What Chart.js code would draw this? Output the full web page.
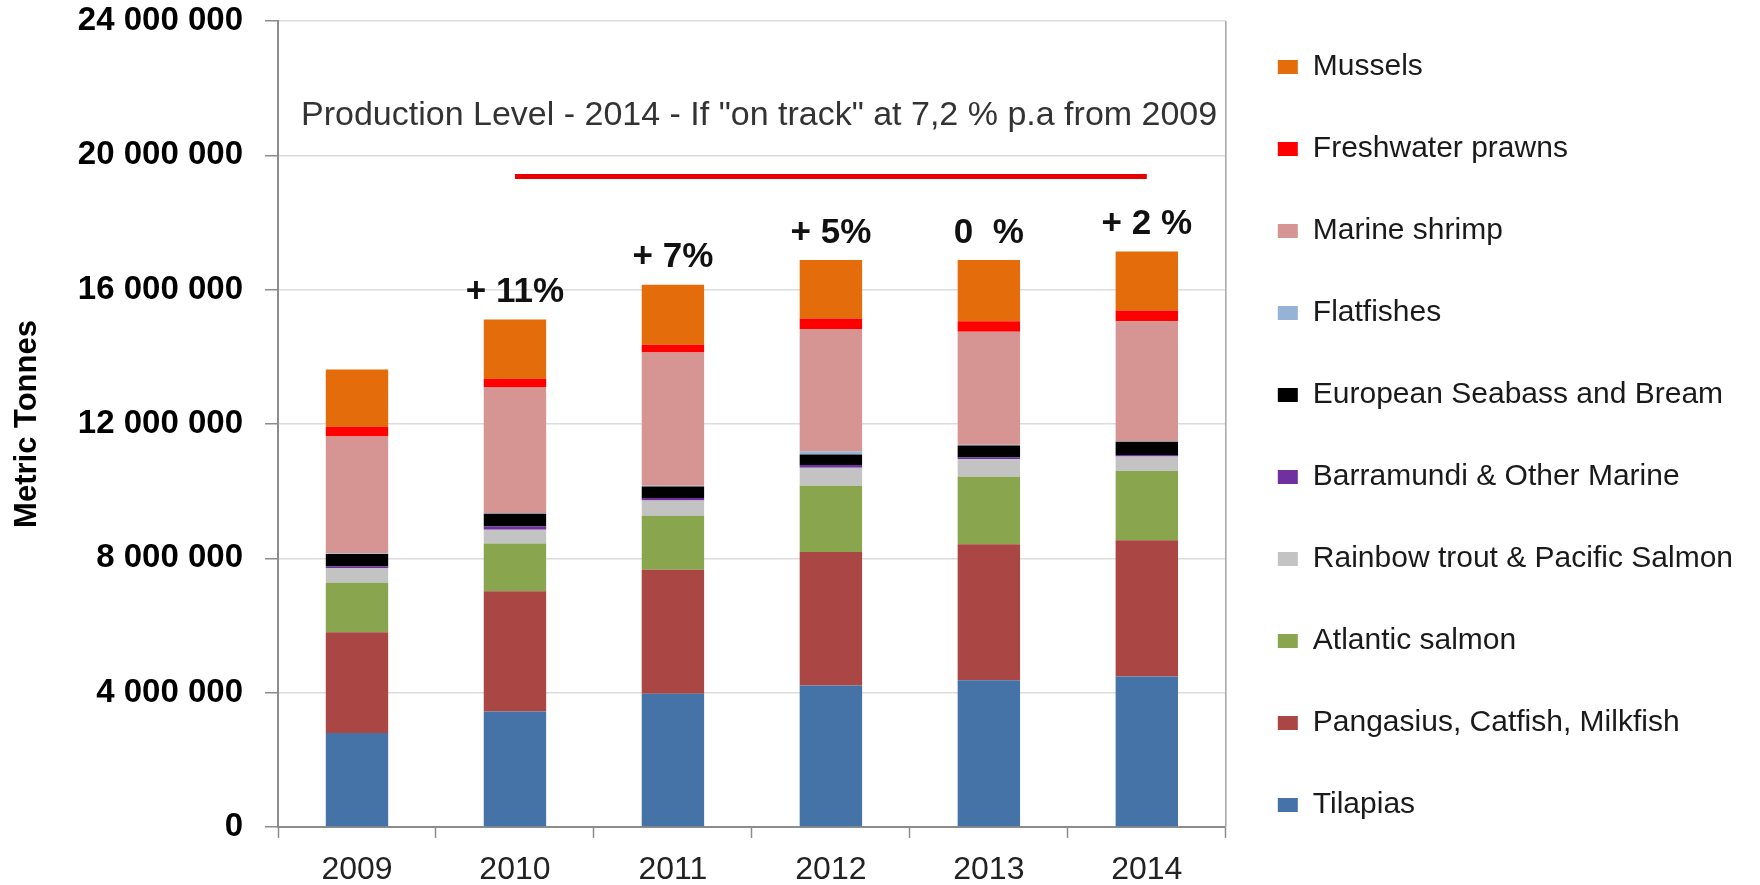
<!DOCTYPE html>
<html>
<head>
<meta charset="utf-8">
<script src="https://cdn.jsdelivr.net/npm/chart.js@4.4.0/dist/chart.umd.min.js"></script>
<style>
  body { margin: 0; background: #fff; }
  #wrap { width: 1760px; height: 885px; }
</style>
</head>
<body>
<div id="wrap"><canvas id="prodChart" width="1760" height="885"></canvas></div>
<script>
// Categorias (anos)
const years = ['2009', '2010', '2011', '2012', '2013', '2014'];

// Séries em toneladas métricas
const tilapias       = [2800000, 3440000, 3970000, 4210000, 4370000, 4480000];
const pangasius      = [3000000, 3580000, 3690000, 3980000, 4050000, 4060000];
const atlanticSalmon = [1470000, 1420000, 1610000, 1970000, 2010000, 2060000];
const rainbowTrout   = [440000, 410000, 450000, 540000, 520000, 430000];
const barramundi     = [50000, 100000, 80000, 80000, 50000, 50000];
const seabass        = [370000, 380000, 340000, 310000, 360000, 390000];
const flatfishes     = [20000, 20000, 20000, 90000, 20000, 20000];
const marineShrimp   = [3480000, 3740000, 3970000, 3650000, 3370000, 3570000];
const prawns         = [280000, 250000, 230000, 310000, 310000, 320000];
const mussels        = [1710000, 1770000, 1790000, 1740000, 1820000, 1760000];

// Linha vermelha: nível esperado se "on track"
const targetLine = [null, 19370000, 19370000, 19370000, 19370000, 19370000];

// Rótulos de crescimento acima das barras
const growthLabels = ['', '+ 11%', '+ 7%', '+ 5%', '0  %', '+ 2 %'];

// Eixo Y
const yTicks = [0, 4000000, 8000000, 12000000, 16000000, 20000000, 24000000];

const annotationText = 'Production Level - 2014 - If "on track" at 7,2 % p.a from 2009';
const annotationValue = 21170000;

const FONT = '"Liberation Sans", Arial, sans-serif';

function fmtSpaces(v) {
    return String(v).replace(/\B(?=(\d{3})+(?!\d))/g, ' ');
}

// Plugin: borda direita da área do gráfico + textos
const extrasPlugin = {
    id: 'extras',
    afterDatasetsDraw(chart) {
        const ctx = chart.ctx;
        const area = chart.chartArea;
        const yScale = chart.scales.y;

        ctx.save();
        ctx.strokeStyle = '#a6a6a6';
        ctx.lineWidth = 1.5;
        ctx.beginPath();
        ctx.moveTo(area.right, area.top);
        ctx.lineTo(area.right, area.bottom);
        ctx.stroke();

        // Texto de anotação
        ctx.fillStyle = '#333';
        ctx.font = '34px ' + FONT;
        ctx.textAlign = 'left';
        ctx.textBaseline = 'middle';
        ctx.fillText(annotationText, area.left + 23, yScale.getPixelForValue(annotationValue));

        // Percentuais acima das barras
        const topMeta = chart.getDatasetMeta(9);
        ctx.font = 'bold 35px ' + FONT;
        ctx.fillStyle = '#111';
        ctx.textAlign = 'center';
        topMeta.data.forEach((bar, i) => {
            if (growthLabels[i]) {
                ctx.fillText(growthLabels[i], bar.x, bar.y - 27);
            }
        });
        ctx.restore();
    }
};

function barSet(label, data, color) {
    return {
        label: label,
        data: data,
        backgroundColor: color,
        borderWidth: 0,
        stack: 'prod',
        categoryPercentage: 1,
        barPercentage: 0.395
    };
}

const ctx = document.getElementById('prodChart').getContext('2d');
const chart = new Chart(ctx, {
    type: 'bar',
    data: {
        labels: years,
        datasets: [
            barSet('Tilapias', tilapias, '#4572a7'),
            barSet('Pangasius, Catfish, Milkfish', pangasius, '#aa4643'),
            barSet('Atlantic salmon', atlanticSalmon, '#89a54e'),
            barSet('Rainbow trout & Pacific Salmon', rainbowTrout, '#c3c3c3'),
            barSet('Barramundi & Other Marine', barramundi, '#7030a0'),
            barSet('European Seabass and Bream', seabass, '#000000'),
            barSet('Flatfishes', flatfishes, '#95b3d7'),
            barSet('Marine shrimp', marineShrimp, '#d69492'),
            barSet('Freshwater prawns', prawns, '#ff0000'),
            barSet('Mussels', mussels, '#e46c0a'),
            {
                type: 'line',
                label: 'target',
                data: targetLine,
                stack: 'target',
                borderColor: '#e60000',
                borderWidth: 5,
                pointRadius: 0,
                fill: false
            }
        ]
    },
    options: {
        responsive: false,
        animation: false,
        layout: { padding: { top: 0, right: 17, bottom: 0, left: 0 } },
        plugins: {
            tooltip: { enabled: false },
            legend: {
                position: 'right',
                align: 'start',
                reverse: true,
                maxWidth: 640,
                labels: {
                    boxWidth: 20,
                    boxHeight: 14,
                    padding: 52,
                    color: '#1a1a1a',
                    font: { family: FONT, size: 30 },
                    filter: item => item.text !== 'target'
                }
            }
        },
        scales: {
            x: {
                stacked: true,
                afterFit: axis => { axis.height = 58; },
                grid: {
                    offset: true,
                    drawOnChartArea: false,
                    tickLength: 11,
                    tickColor: '#8c8c8c',
                    tickWidth: 1.5
                },
                border: { color: '#8c8c8c', width: 2 },
                ticks: {
                    color: '#222',
                    padding: 16,
                    font: { family: FONT, size: 32, lineHeight: 1 }
                }
            },
            y: {
                stacked: true,
                min: 0,
                max: 24000000,
                afterBuildTicks: axis => { axis.ticks = yTicks.map(v => ({ value: v })); },
                afterFit: axis => {
                    axis.width = 278;
                    axis.paddingTop = 21;
                    axis.paddingBottom = 0;
                },
                grid: {
                    color: '#dcdcdc',
                    lineWidth: 1.5,
                    tickLength: 13,
                    tickColor: '#8c8c8c',
                    tickWidth: 1.5
                },
                border: { color: '#8c8c8c', width: 2 },
                ticks: {
                    color: '#000',
                    padding: 22,
                    callback: v => fmtSpaces(v),
                    font: { family: FONT, size: 33, weight: 'bold' }
                },
                title: {
                    display: true,
                    text: 'Metric Tonnes',
                    color: '#000',
                    padding: { top: 9, bottom: 10 },
                    font: { family: FONT, size: 31, weight: 'bold', lineHeight: 1.2 }
                }
            }
        }
    },
    plugins: [extrasPlugin]
});
</script>
</body>
</html>
